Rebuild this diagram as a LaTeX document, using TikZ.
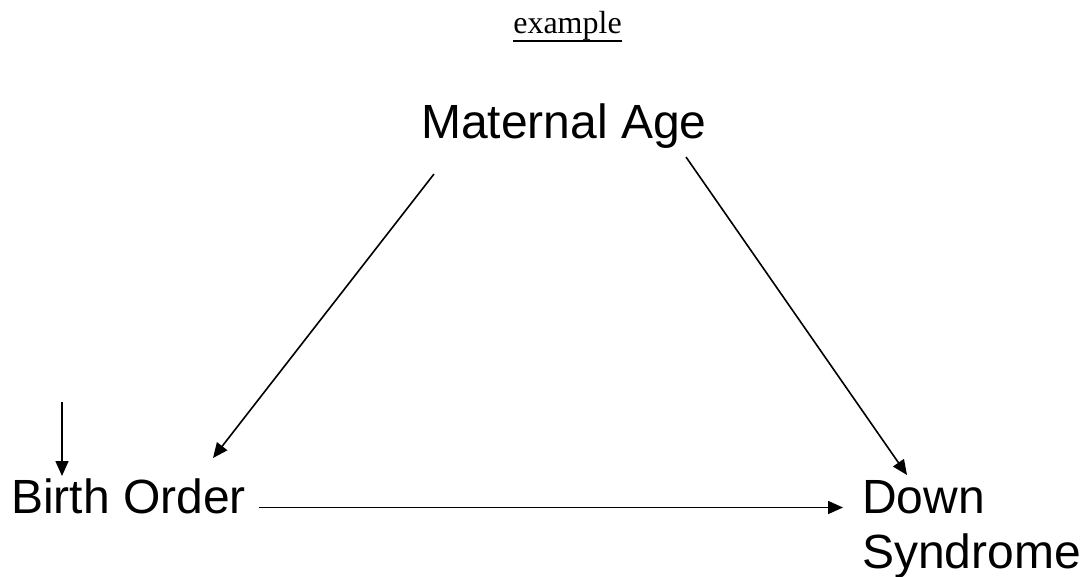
\documentclass[tikz,border=0pt]{standalone}
\usepackage{fontspec}
\setmainfont{Liberation Sans}
\newfontfamily\titlefont{Liberation Serif}
\usetikzlibrary{arrows.meta}
\begin{document}
\begin{tikzpicture}[x=1pt,y=-1pt,font=\fontsize{48}{55}\selectfont]
\tikzset{varlabel/.style={inner sep=0pt},
  causearrow/.style={line width=1.6pt,-{Triangle[length=15pt,width=13pt]}}}
\useasboundingbox (0,0) rectangle (1086,576);
\node[inner sep=0pt,anchor=base,font=\titlefont\fontsize{32}{36}\selectfont] (title) at (567.5,33) {example};
\draw[line width=2pt] (title.base west) ++(0,7.5) -- ++(109,0);
\node[varlabel,anchor=base] (matage) at (564,138) {Maternal Age};
\node[varlabel,anchor=base west] (birthord) at (11,513) {Birth Order};
\node[varlabel,anchor=base west,align=left] (downsyn) at (862,568) {Down\\Syndrome};
% arrow ends
\coordinate (ma-l) at (434,174);
\coordinate (ma-r) at (686,157);
\coordinate (bo-top) at (213,458);
\coordinate (bo-right) at (259,507.5);
\coordinate (ds-top) at (907,475);
\coordinate (ds-left) at (843,507.5);
\coordinate (bo-in) at (62,402);
\coordinate (bo-mark) at (62,476);
\draw[causearrow] (ma-l) -- (bo-top);
\draw[causearrow] (ma-r) -- (ds-top);
\draw[causearrow] (bo-right) -- (ds-left);
\draw[causearrow] (bo-in) -- (bo-mark);
\end{tikzpicture}
\end{document}
